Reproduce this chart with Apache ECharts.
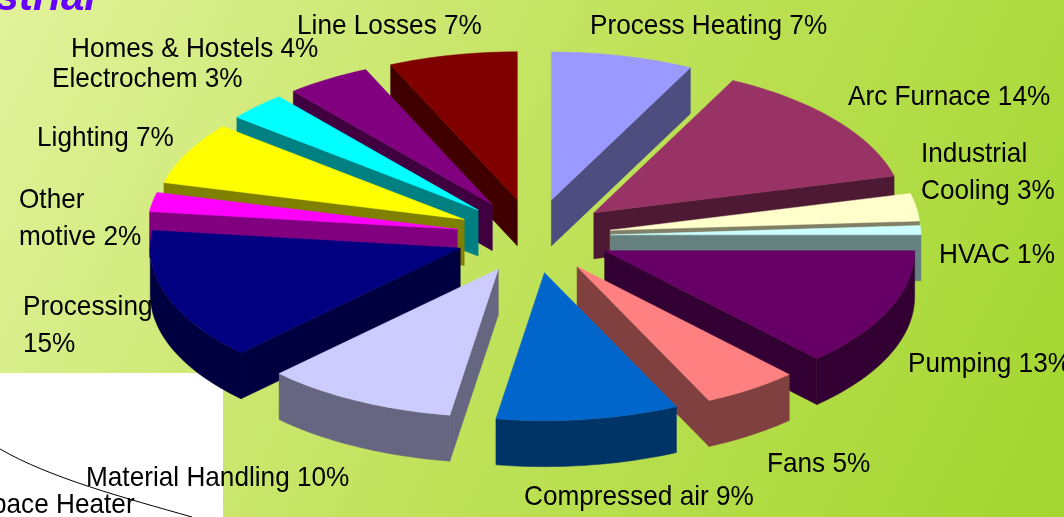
<!DOCTYPE html>
<html>
<head>
<meta charset="utf-8">
<style>html,body{margin:0;padding:0;overflow:hidden;background:#fff}#c{width:1064px;height:517px}</style>
<script src="https://cdn.jsdelivr.net/npm/echarts@6/dist/echarts.min.js"></script>
</head>
<body>
<div id="c"></div>
<script>
// Data
const categories = ['Process Heating 7%','Arc Furnace 14%','Industrial\nCooling 3%','HVAC 1%','Pumping 13%','Fans 5%','Compressed air 9%','Material Handling 10%','Processing\n15%','Other\nmotive 2%','Lighting 7%','Electrochem 3%','Homes & Hostels 4%','Line Losses 7%'];
const shares = [7.4,13.6,3,1,13,5,9.5,10,14.4,2.1,6.8,3.1,4.4,6.7];

// Styles
const topColors  = ['#9999FF','#993366','#FFFFCC','#CCFFFF','#660066','#FF8080','#0066CC','#CCCCFF','#000080','#FF00FF','#FFFF00','#00FFFF','#800080','#800000'];
const wallColors = ['#4D4D80','#4D1933','#808066','#668080','#330033','#804040','#003366','#666680','#000040','#800080','#808000','#008080','#400040','#400000'];
const labelAnchors = [[590,26],[848,97],[921,173],[939,255],[908,364],[767,464],[524,497],[86,478],[23,326],[19,219],[37,138],[52,79],[71,49],[297,26]];
const pie = {cx:533.5, cy:236, rx:310, ry:148, depth:46, explode:0.25};

// Slices: cumulative angles, painted from back to front
const total = shares.reduce((a,b)=>a+b,0);
let acc = 0;
const slices = shares.map((v,i)=>{
  const start = acc/total*360; acc += v; const end = acc/total*360;
  return [start,end,i];
});
const rad = d=>d*Math.PI/180;
slices.sort((a,b)=>Math.cos(rad((b[0]+b[1])/2))-Math.cos(rad((a[0]+a[1])/2)));

function renderSlice(params, api){
  const s = api.value(0), e = api.value(1), i = api.value(2);
  const m = rad((s+e)/2);
  const ax = pie.cx + pie.explode*pie.rx*Math.sin(m);
  const ay = pie.cy - pie.explode*pie.ry*Math.cos(m);
  const pt = d=>[ax+pie.rx*Math.sin(rad(d)), ay-pie.ry*Math.cos(rad(d))];
  const arc = (a,b)=>{const n=Math.max(2,Math.ceil((b-a)/1.5));const o=[];for(let k=0;k<=n;k++)o.push(pt(a+(b-a)*k/n));return o;};
  const down = p=>[p[0],p[1]+pie.depth];
  const wall = pts=>({type:'polygon',shape:{points:pts.concat(pts.slice().reverse().map(down))},
    style:{fill:wallColors[i],stroke:wallColors[i],lineWidth:0.5}});
  const kids = [];
  const apex=[ax,ay];
  if (Math.sin(rad(s))<-1e-6) kids.push(wall([apex,pt(s)]));
  if (Math.sin(rad(e))>1e-6) kids.push(wall([pt(e),apex]));
  const a=Math.max(s,90), b=Math.min(e,270);
  if (b>a) kids.push(wall(arc(a,b)));
  kids.push({type:'polygon',shape:{points:[apex].concat(arc(s,e))},style:{fill:topColors[i],stroke:topColors[i],lineWidth:0.5}});
  return {type:'group',children:kids};
}

const font = '"Liberation Sans", Arial, sans-serif';
const labels = categories.map((t,i)=>({
  type:'text', x:labelAnchors[i][0], y:labelAnchors[i][1], z:20, silent:true, scaleX:0.935,
  style:{text:t, font:'28px '+font, fill:'#000', textAlign:'left', textVerticalAlign:'middle', lineHeight:37}
}));

const chart = echarts.init(document.getElementById('c'),null,{renderer:'canvas'});
chart.setOption({
  animation:false,
  backgroundColor:{type:'linear',x:0,y:0,x2:1,y2:1,colorStops:[{offset:0,color:'#E2F29C'},{offset:0.5,color:'#C0E25A'},{offset:1,color:'#A2D62F'}]},
  graphic:{elements:[
    {type:'rect',z:0,silent:true,shape:{x:0,y:373,width:223,height:144},style:{fill:'#FFFFFF'}},
    {type:'bezierCurve',z:0,silent:true,shape:{x1:0,y1:449,cpx1:50,cpy1:478,cpx2:125,cpy2:498,x2:192,y2:517},style:{stroke:'#000',lineWidth:1,fill:'none'}},
    {type:'text',z:0,silent:true,x:-8,y:505,scaleX:0.935,style:{text:'pace Heater',font:'28px '+font,fill:'#000',textAlign:'left',textVerticalAlign:'middle'}},
    {type:'text',z:0,silent:true,x:96,y:-2,style:{text:'strial',font:'italic bold 42px '+font,fill:'#6600FF',textAlign:'right',textVerticalAlign:'middle'}}
  ].concat(labels)},
  series:[{type:'custom',coordinateSystem:'none',silent:true,z:2,clip:false,renderItem:renderSlice,data:slices}]
});
</script>
</body>
</html>
